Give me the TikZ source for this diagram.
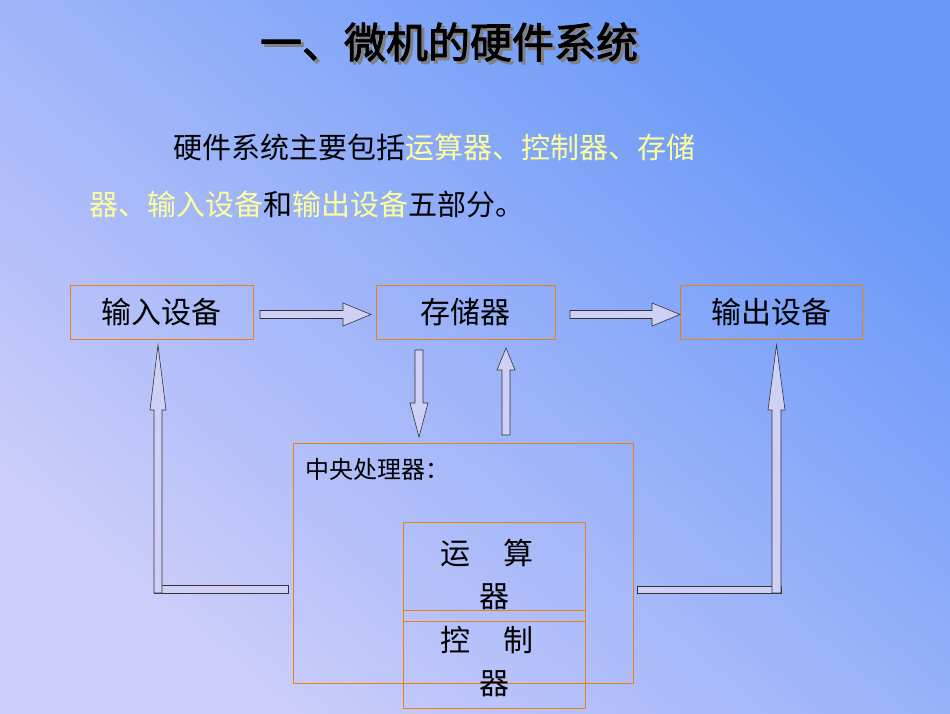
\documentclass[tikz,border=0pt]{standalone}
\usepackage{fontspec}
\setmainfont{Noto Sans CJK SC}
\newfontfamily\cjkb[FakeBold=2]{Noto Sans CJK SC}
\definecolor{bgLL}{RGB}{104,152,248}
\definecolor{bgUR}{RGB}{206,206,250}
\definecolor{arrfill}{RGB}{208,208,246}
\definecolor{yel}{HTML}{FFFF99}
\begin{document}
\begin{tikzpicture}[x=1pt,y=-1pt,
  box/.style={draw=orange!70!brown,line width=0.8pt},
  barr/.style={draw=black!80,fill=arrfill,line width=0.6pt},
  lbl/.style={font=\fontsize{30}{30}\selectfont,anchor=center}]
\shade[left color=bgLL,right color=bgUR,shading angle=-40]
  (0,713) rectangle (950,0);
\useasboundingbox (0,0) rectangle (950,713);
% title
\node[font=\cjkb\fontsize{42}{42}\selectfont,text=black!50] at (452,45) {一、微机的硬件系统};
\node[font=\cjkb\fontsize{42}{42}\selectfont] (title) at (449,42) {一、微机的硬件系统};
\node[font=\fontsize{29}{29}\selectfont,anchor=west] (l1) at (170,147) {硬件系统主要包括\textcolor{yel}{运算器、控制器、存储}};
\node[font=\fontsize{29}{29}\selectfont,anchor=west] (l2) at (86,204) {\textcolor{yel}{器、输入设备}和\textcolor{yel}{输出设备}五部分。};
% boxes
\draw[box] (70,285) rectangle (253,339); \node[lbl] (in) at (161.5,312) {输入设备};
\draw[box] (376,285) rectangle (555,339); \node[lbl] (mem) at (465.5,312) {存储器};
\draw[box] (680,285) rectangle (862,339); \node[lbl] (out) at (771,312) {输出设备};
\draw[box] (293,443) rectangle (633,683);
\node[font=\fontsize{24}{24}\selectfont,anchor=west] (cpu) at (302,469) {中央处理器：};
\draw[box] (403,522) rectangle (585,621);
\draw[box] (403,610) rectangle (585,708);
\node[lbl] (alu1) at (487,553) {运\hspace{1.1em}算};
\node[lbl] (alu2) at (494,597) {器};
\node[lbl] (cu1) at (487,640) {控\hspace{1.1em}制};
\node[lbl] (cu2) at (494,684) {器};
% block arrows
\draw[barr] (260,310.5) -- (343,310.5) -- (343,303) -- (371,314.5) -- (343,326) -- (343,318.5) -- (260,318.5) -- cycle;
\draw[barr] (570,310.5) -- (652,310.5) -- (652,303) -- (680,314.5) -- (652,326) -- (652,318.5) -- (570,318.5) -- cycle;
\draw[barr] (415,350) -- (423,350) -- (423,403) -- (428,403) -- (419,437) -- (410,403) -- (415,403) -- cycle;
\draw[barr] (502,435) -- (510,435) -- (510,370) -- (515,370) -- (506,348) -- (497,370) -- (502,370) -- cycle;
\draw[barr] (154,585) rectangle (288,593);
\draw[barr] (154,593) -- (154,410) -- (150,410) -- (158,345) -- (166,410) -- (162,410) -- (162,593) -- cycle;
\draw[barr] (637,586) rectangle (781,593);
\draw[barr] (772,593) -- (772,410) -- (768,410) -- (776.5,345) -- (785,410) -- (781,410) -- (781,593) -- cycle;
\end{tikzpicture}
\end{document}
